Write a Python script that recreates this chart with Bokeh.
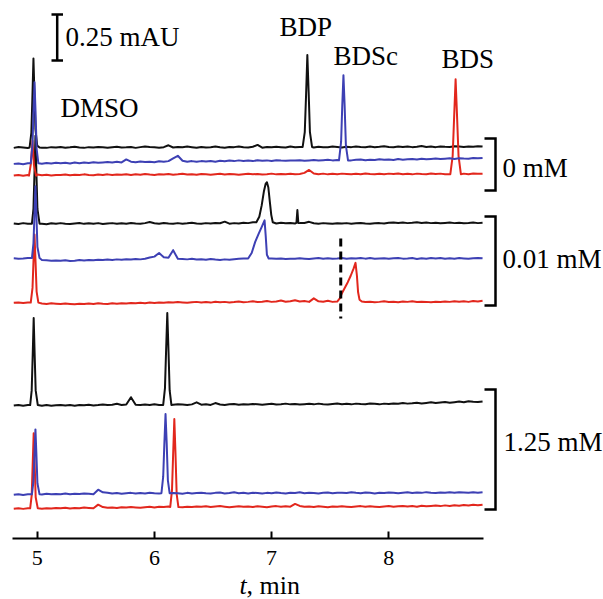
import numpy as np
from bokeh.plotting import figure
from bokeh.models import Range1d, FixedTicker, Label
from bokeh.embed import file_html
from bokeh.resources import INLINE

# ---------------- data ----------------
# time grid of the baseline samples (min)
t_grid = np.round(4.80 + 0.04 * np.arange(101), 2)

# baseline readings (1e-3 mAU, relative to each trace offset)
black_0mM = [-2,3,0,-3,2,1,-1,-2,2,0, 3,-1,1,4,0,-2,2,0,3,1, -1,2,4,0,1,3,-2,2,6,3,
             1,-1,2,12,0,3,1,5,2,-1, 3,0,2,5,1,-1,3,2,6,1, 0,4,14,-1,3,1,4,2,0,5,
             1,3,6,2,0,4,2,1,5,3, 0,4,2,6,3,1,5,2,4,7, 3,1,5,3,6,2,4,8,3,5,
             2,6,4,3,7,5,3,6,4,7, 5]
blue_0mM = [-18,-16,-20,-15,-17,-14,-17,-13,-16,-12, -15,-12,-16,-11,-14,-10,-13,-9,-12,-10,
            -8,-11,-7,-10,6,-6,-9,-5,-8,-6, -9,-4,-7,-3,12,26,-1,-6,-3,-7,
            -3,-5,-2,-6,-1,-4,0,-3,1,-2, 0,-3,2,-1,1,-2,2,0,-1,1,
            0,2,-1,1,3,0,2,4,1,3, 2,5,1,4,6,2,5,3,7,4,
            6,3,8,5,7,9,6,10,7,9, 11,8,10,12,9,13,11,10,14,12, 14]
red_0mM = [-5,-2,-6,-3,-4,0,-4,-1,-5,-2, -3,0,-4,-1,-3,1,-2,-4,0,-2,
           1,-3,0,-1,2,-2,1,-1,3,0, -2,2,0,3,-1,1,4,0,2,-1,
           3,1,-1,2,4,0,3,1,-1,2, 4,1,3,0,2,5,1,3,2,4,
           1,3,9,25,6,2,5,1,4,2, 5,3,1,4,2,6,3,1,4,2,
           5,3,6,2,4,1,5,3,2,6, 3,5,2,4,7,3,5,2,6,4, 5]
black_001mM = [0,-3,2,-1,1,3,-2,-4,1,-2, 2,-1,-3,0,3,-2,1,-1,2,-3,
               0,2,-2,1,-1,3,0,-2,2,8, 1,-1,3,0,-2,2,-1,1,4,0,
               -2,2,0,3,1,10,-1,2,0,4, 2,7,1,-1,3,2,0,4,1,3,
               0,2,3,9,1,-1,2,0,-2,1, 0,2,-1,1,3,0,-2,1,2,0,
               4,6,3,5,2,4,7,3,5,2, 4,1,3,5,2,4,1,3,6,2, 4]
blue_001mM = [1,-1,0,2,-2,-4,-8,-10,-12,-11, -13,-10,-14,-12,-9,-11,-8,-10,-7,-9,
              -6,-8,-5,-7,-4,-6,-3,-5,-2,5, 10,30,6,4,45,-2,-3,-5,-2,-6,
              -4,-7,-3,-6,-8,-5,-7,-4,-2,0, 2,5,10,20,30,0,-2,0,-3,-1,
              -2,1,-1,-3,0,2,-2,1,-1,0, 2,-1,1,0,3,-1,2,-2,0,1,
              -2,1,3,-1,0,2,-3,1,-1,2, 0,3,-2,1,-1,2,0,-2,1,3, 1]
red_001mM = [-2,0,-3,-1,-2,-5,-6,-8,-5,-7, -9,-6,-8,-10,-7,-9,-6,-8,-5,-7,
             -8,-5,-7,-4,-6,-3,-5,-2,-4,-1, -3,0,-2,1,-1,2,0,-2,1,3,
             0,2,-1,4,1,3,0,2,5,1, 3,6,2,4,8,3,5,10,4,6,
             12,5,8,3,22,6,4,9,3,5, 2,4,1,3,5,2,4,1,3,6,
             2,4,1,5,3,6,2,4,3,1, 4,2,5,3,7,4,6,3,8,5, 9]
black_125mM = [-5,-2,-6,-3,-5,-4,-7,-3,-6,-4, -2,-5,-3,-6,-2,-4,-1,-5,-3,0,
               -3,-1,4,-2,0,40,-1,-3,0,-2, 1,-2,0,3,-1,2,0,-3,1,12,
               -1,2,-2,8,0,-2,1,3,-1,2, 0,3,1,-1,2,4,0,2,5,1,
               3,0,2,4,1,5,2,0,3,6, 2,4,1,5,3,2,6,4,1,5,
               3,6,4,8,5,7,10,6,9,12, 8,11,14,10,13,16,12,18,15,14, 17]
blue_125mM = [-7,-4,-8,-5,-6,-3,-6,-2,-5,-3, -4,-1,-5,-2,-3,0,-2,-4,20,6,
              4,-1,2,-2,1,3,-1,2,0,4, 1,-1,3,0,2,1,-2,3,0,2,
              4,1,-1,3,5,0,2,6,1,3, 0,4,2,-1,3,1,5,2,0,4,
              2,6,1,4,2,0,3,5,1,3, 4,2,6,3,1,5,3,0,4,2,
              5,3,1,4,6,2,5,3,7,4, 2,5,3,6,4,7,5,3,6,4, 7]
red_125mM = [-12,-9,-13,-10,-11,-8,-12,-9,-11,-8, -10,-7,-11,-8,-9,-6,-8,-10,10,-3,
             -7,-5,-8,-4,-6,-3,-5,-7,-4,-2, -5,-1,-3,0,-2,1,-4,-1,-3,0,
             -2,1,-3,0,2,-1,-4,-1,1,-2, 0,-3,1,-1,-4,0,2,-2,1,-1,
             14,3,-2,0,-3,1,-1,-4,0,-2, 1,-1,-3,0,2,-2,1,-1,-3,0,
             2,-1,1,3,0,2,-1,4,1,3, 5,2,6,3,7,4,8,5,9,7, 10]

# peaks: (time min, signal mAU above local baseline)
black_0mM_peaks = [
    [(4.935,0.0),(4.95,0.08),(4.958,0.25),(4.968,0.484),(4.976,0.30),(4.985,0.10),(5.0,0.01),(5.02,0.0)],   # DMSO
    [(7.265,0.0),(7.283,0.08),(7.294,0.28),(7.305,0.50),(7.316,0.30),(7.327,0.08),(7.345,0.0)],            # BDP
]
blue_0mM_peaks = [
    [(4.945,0.0),(4.96,0.10),(4.968,0.28),(4.977,0.44),(4.986,0.28),(4.995,0.08),(5.01,0.0)],              # DMSO
    [(7.575,0.0),(7.593,0.10),(7.603,0.30),(7.613,0.462),(7.623,0.30),(7.634,0.08),(7.652,0.0)],           # BDSc
]
red_0mM_peaks = [
    [(4.93,0.0),(4.945,0.06),(4.96,0.19),(4.972,0.06),(4.99,0.0)],                                          # DMSO
    [(8.525,0.0),(8.545,0.10),(8.558,0.32),(8.57,0.516),(8.582,0.32),(8.595,0.10),(8.615,0.0)],            # BDS
]
black_001mM_peaks = [
    [(4.955,0.0),(4.968,0.08),(4.977,0.28),(4.985,0.478),(4.993,0.28),(5.002,0.08),(5.02,0.0)],            # DMSO
    [(6.87,0.0),(6.895,0.03),(6.915,0.09),(6.935,0.17),(6.95,0.21),(6.96,0.217),(6.972,0.19),
     (6.985,0.11),(6.997,0.04),(7.01,0.0)],                                                                # BDP
    [(7.212,0.0),(7.22,0.07),(7.228,0.0)],
]
blue_001mM_peaks = [
    [(4.955,0.0),(4.968,0.08),(4.977,0.24),(4.985,0.39),(4.993,0.24),(5.002,0.06),(5.02,0.0)],             # DMSO
    [(6.80,0.0),(6.83,0.03),(6.86,0.09),(6.89,0.135),(6.915,0.17),(6.94,0.207),(6.95,0.12),
     (6.96,0.02),(6.975,0.0)],                                                                             # BDSc
]
red_001mM_peaks = [
    [(4.945,0.0),(4.96,0.08),(4.968,0.22),(4.977,0.37),(4.986,0.22),(4.995,0.06),(5.01,0.0)],              # DMSO
    [(7.585,0.02),(7.60,0.045),(7.625,0.075),(7.65,0.105),(7.675,0.14),(7.70,0.18),(7.716,0.21),
     (7.728,0.14),(7.738,0.05),(7.75,0.01),(7.77,0.0)],                                                    # BDS
]
black_125mM_peaks = [
    [(4.94,0.0),(4.953,0.08),(4.962,0.28),(4.97,0.473),(4.978,0.28),(4.987,0.08),(5.005,0.0)],             # DMSO
    [(6.075,0.0),(6.09,0.09),(6.10,0.30),(6.11,0.50),(6.12,0.30),(6.13,0.08),(6.145,0.0)],                 # BDP
]
blue_125mM_peaks = [
    [(4.955,0.0),(4.968,0.07),(4.977,0.22),(4.985,0.353),(4.993,0.22),(5.002,0.06),(5.02,0.0)],            # DMSO
    [(6.06,0.0),(6.075,0.09),(6.085,0.27),(6.095,0.43),(6.105,0.27),(6.115,0.07),(6.13,0.0)],              # BDSc
]
red_125mM_peaks = [
    [(4.94,0.0),(4.953,0.07),(4.962,0.25),(4.97,0.408),(4.978,0.25),(4.987,0.06),(5.005,0.0)],             # DMSO
    [(6.135,0.0),(6.15,0.09),(6.16,0.29),(6.17,0.478),(6.18,0.29),(6.19,0.07),(6.205,0.0)],                # BDS
]

# vertical stacking offsets (mAU)
offsets = [2.125, 2.054, 1.978, 1.712, 1.522, 1.283, 0.728, 0.245, 0.174]

x_ticks = [5, 6, 7, 8]
scale_bar_mAU = 0.25
dashed_t = 7.59
group_labels = ["0 mM", "0.01 mM", "1.25 mM"]
peak_labels = ["DMSO", "BDP", "BDSc", "BDS"]

BLACK = "#111111"
BLUE = "#3d40b4"
RED = "#e2271d"
FONT = "Liberation Serif"

# ---------------- helpers ----------------
W, H = 603, 599
AXIS_Y = 538           # pixel row of the time axis
PX_PER_MIN = 117.2
PX_PER_MAU = 184.0
TEXT_SHIFT = 9         # label baseline correction (px)
def px_x(X):  # pixel column -> minutes
    return 5 + (X - 36.7) / PX_PER_MIN
def px_y(P):  # pixel row -> mAU
    return (AXIS_Y - P) / PX_PER_MAU

def build(noise, peaks, off):
    base = np.array(noise) / 1000.0
    keep = np.ones(len(t_grid), bool)
    ts, ys = [], []
    for pk in peaks:
        lo, hi = pk[0][0], pk[-1][0]
        keep &= ~((t_grid >= lo - 0.005) & (t_grid <= hi + 0.005))
        idx = int(np.argmin(np.abs(t_grid - lo)))
        local = base[max(idx - 1, 0)]
        for (tt, vv) in pk:
            ts.append(tt)
            ys.append(off + local + vv)
    ts += list(t_grid[keep])
    ys += list(off + base[keep])
    order = np.argsort(ts)
    return np.array(ts)[order], np.array(ys)[order]

# ---------------- figure ----------------
p = figure(width=W, height=H,
           x_range=Range1d(px_x(0), px_x(W)),
           y_range=Range1d(px_y(H), px_y(0)),
           output_backend="svg", toolbar_location=None,
           y_axis_location=None,
           min_border_left=0, min_border_right=0, min_border_top=0,
           min_border_bottom=0)
p.outline_line_color = None
p.grid.visible = False
p.background_fill_color = "white"
p.border_fill_color = "white"

ax = p.xaxis[0]
ax.fixed_location = 0.0
ax.bounds = (px_x(12), px_x(483))
ax.ticker = FixedTicker(ticks=x_ticks)
ax.major_tick_in = 7
ax.major_tick_out = 0
ax.minor_tick_line_color = None
ax.axis_line_width = 2
ax.major_tick_line_width = 2
ax.axis_line_color = "black"
ax.major_tick_line_color = "black"
ax.major_label_text_font = FONT
ax.major_label_text_font_size = "22px"
ax.major_label_text_color = "black"
ax.major_label_standoff = 12

traces = [
    (black_0mM, black_0mM_peaks, offsets[0], BLACK),
    (black_001mM, black_001mM_peaks, offsets[3], BLACK),
    (black_125mM, black_125mM_peaks, offsets[6], BLACK),
    (red_0mM, red_0mM_peaks, offsets[2], RED),
    (red_001mM, red_001mM_peaks, offsets[5], RED),
    (red_125mM, red_125mM_peaks, offsets[8], RED),
    (blue_0mM, blue_0mM_peaks, offsets[1], BLUE),
    (blue_001mM, blue_001mM_peaks, offsets[4], BLUE),
    (blue_125mM, blue_125mM_peaks, offsets[7], BLUE),
]
for noise, peaks, off, col in traces:
    tx, ty = build(noise, peaks, off)
    p.line(tx, ty, line_color=col, line_width=2, line_join="round")

# dashed marker
p.line([dashed_t, dashed_t], [px_y(238), px_y(318)], line_color="black",
       line_width=3, line_dash="8 5")

# scale bar
sb_x = px_x(56.7)
sb_top = px_y(14)
sb_bot = sb_top - scale_bar_mAU
p.line([sb_x, sb_x], [sb_top, sb_bot], line_color="black", line_width=2.5)
for yy in (sb_top, sb_bot):
    p.line([px_x(51), px_x(62.5)], [yy, yy], line_color="black", line_width=2.5)

# brackets
for (ytop, ybot) in [(138, 190), (216, 305), (389, 509)]:
    xv = px_x(495)
    xs = px_x(484)
    p.line([xs, xv, xv, xs], [px_y(ytop), px_y(ytop), px_y(ybot), px_y(ybot)],
           line_color="black", line_width=2.5, line_join="miter")

def add_text(txt, X, P, size="27px", style="normal"):
    p.add_layout(Label(x=px_x(X), y=px_y(P - TEXT_SHIFT), text=txt, text_font=FONT,
                       text_font_size=size, text_font_style=style, text_color="black",
                       text_align="left", text_baseline="alphabetic"))

add_text("0.25 mAU", 65, 45)
add_text(peak_labels[0], 60, 116)
add_text(peak_labels[1], 279, 35)
add_text(peak_labels[2], 333, 64)
add_text(peak_labels[3], 441, 67)
add_text(group_labels[0], 502, 176)
add_text(group_labels[1], 502, 267)
add_text(group_labels[2], 503, 450)
add_text("t", 239, 594, size="26px", style="italic")
add_text(", min", 246, 594, size="26px")

open("out.html", "w").write(file_html(p, INLINE))
